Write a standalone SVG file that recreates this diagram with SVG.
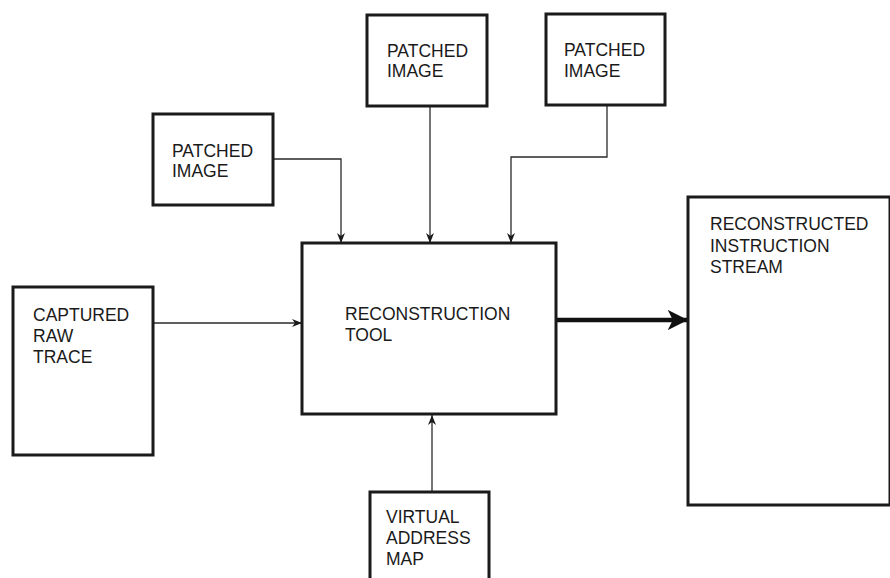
<svg xmlns="http://www.w3.org/2000/svg" width="890" height="578" viewBox="0 0 890 578">
<defs>
<style>
.box{fill:#fff;stroke:#1a1a1a;stroke-width:3}
.lbl{font-family:"Liberation Sans",Arial,sans-serif;font-size:17.5px;fill:#1a1a1a}
.con{fill:none;stroke:#2a2a2a;stroke-width:1.3}
.thick{fill:none;stroke:#111;stroke-width:4.5}
</style>
<marker id="ah" viewBox="0 0 10 10" refX="10" refY="5" markerWidth="10" markerHeight="10" markerUnits="userSpaceOnUse" orient="auto">
<path d="M0,1 L10,5 L0,9 L3,5 Z" fill="#1a1a1a"/>
</marker>
<marker id="ahb" viewBox="0 0 10 10" refX="10" refY="5" markerWidth="5" markerHeight="4.5" orient="auto">
<path d="M0,0 L10,5 L0,10 L2.5,5 Z" fill="#111"/>
</marker>
</defs>
<rect width="890" height="578" fill="#fff"/>
<g id="connectors">
<path class="con" d="M273,159 H341 V243" marker-end="url(#ah)"/>
<path class="con" d="M430,106 V243" marker-end="url(#ah)"/>
<path class="con" d="M607,105 V157 H511 V243" marker-end="url(#ah)"/>
<path class="con" d="M153,323 H302" marker-end="url(#ah)"/>
<path class="con" d="M432,492 V415" marker-end="url(#ah)"/>
<path class="thick" d="M556,320 H688" marker-end="url(#ahb)"/>
</g>
<g id="patched-left">
<rect class="box" x="153" y="114" width="120" height="91"/>
<text class="lbl" x="172" y="157">PATCHED</text>
<text class="lbl" x="172" y="177">IMAGE</text>
</g>
<g id="patched-center">
<rect class="box" x="367" y="15" width="120" height="91"/>
<text class="lbl" x="387" y="57">PATCHED</text>
<text class="lbl" x="387" y="77">IMAGE</text>
</g>
<g id="patched-right">
<rect class="box" x="546" y="14" width="119" height="91"/>
<text class="lbl" x="564" y="56">PATCHED</text>
<text class="lbl" x="564" y="77">IMAGE</text>
</g>
<g id="reconstruction-tool">
<rect class="box" x="302" y="243" width="254" height="171"/>
<text class="lbl" x="345" y="320">RECONSTRUCTION</text>
<text class="lbl" x="345" y="341">TOOL</text>
</g>
<g id="captured-raw-trace">
<rect class="box" x="13" y="287" width="140" height="168"/>
<text class="lbl" x="33" y="321">CAPTURED</text>
<text class="lbl" x="33" y="342">RAW</text>
<text class="lbl" x="33" y="363">TRACE</text>
</g>
<g id="reconstructed-stream">
<rect class="box" x="688" y="197" width="202" height="308"/>
<text class="lbl" x="710" y="230">RECONSTRUCTED</text>
<text class="lbl" x="710" y="252">INSTRUCTION</text>
<text class="lbl" x="710" y="273">STREAM</text>
</g>
<g id="virtual-address-map">
<rect class="box" x="370" y="492" width="119" height="90"/>
<text class="lbl" x="386" y="523">VIRTUAL</text>
<text class="lbl" x="386" y="544">ADDRESS</text>
<text class="lbl" x="386" y="565">MAP</text>
</g>
</svg>
